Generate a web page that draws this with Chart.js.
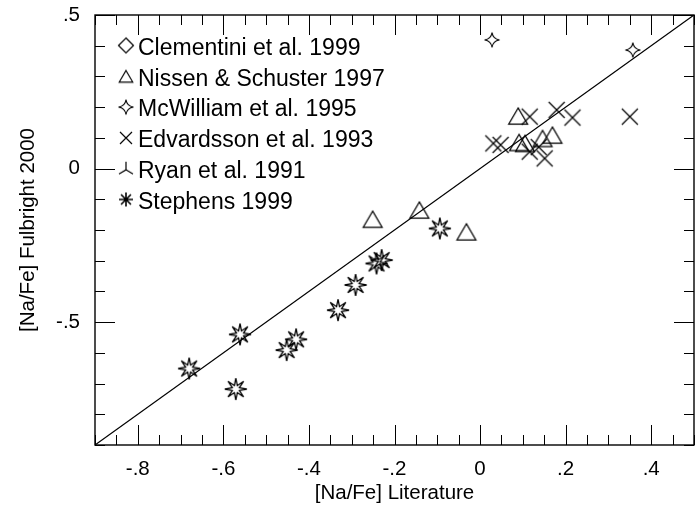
<!DOCTYPE html>
<html><head><meta charset="utf-8">
<script src="https://cdn.jsdelivr.net/npm/chart.js@4.4.0/dist/chart.umd.min.js"></script>
<style>html,body{margin:0;padding:0;background:#fff}#wrap{width:696px;height:510px}</style>
</head><body><div id="wrap"><canvas id="c" width="696" height="510"></canvas></div>
<script>
// ---- data ----
const seriesNames = ['Clementini et al. 1999','Nissen & Schuster 1997','McWilliam et al. 1995','Edvardsson et al. 1993','Ryan et al. 1991','Stephens 1999'];
const clementiniX = [];
const clementiniY = [];
const nissenX = [0.089, 0.091, 0.105, 0.146, 0.169, -0.251, -0.142, -0.032];
const nissenY = [0.171, 0.085, 0.082, 0.098, 0.109, -0.165, -0.135, -0.206];
const mcwilliamX = [0.028, 0.357];
const mcwilliamY = [0.419, 0.386];
const edvardssonX = [0.031, 0.048, 0.116, 0.179, 0.216, 0.350, 0.116, 0.137, 0.151];
const edvardssonY = [0.082, 0.077, 0.169, 0.191, 0.166, 0.169, 0.055, 0.070, 0.033];
const ryanX = [];
const ryanY = [];
const stephensX = [-0.680, -0.561, -0.571, -0.452, -0.430, -0.332, -0.291, -0.242, -0.230, -0.094];
const stephensY = [-0.651, -0.540, -0.718, -0.591, -0.556, -0.461, -0.379, -0.309, -0.298, -0.195];
const oneToOneX = [-0.9, 0.5];
const oneToOneY = [-0.9, 0.5];
const xTickValues = [-0.8, -0.6, -0.4, -0.2, 0, 0.2, 0.4];
const xTickLabels = ['-.8', '-.6', '-.4', '-.2', '0', '.2', '.4'];
const yTickValues = [-0.5, 0, 0.5];
const yTickLabels = ['-.5', '0', '.5'];
const xTitle = '[Na/Fe] Literature';
const yTitle = '[Na/Fe] Fulbright 2000';

// ---- marker drawing ----
function mk(size, lw, draw){
  const c = document.createElement('canvas'); c.width = size; c.height = size;
  const g = c.getContext('2d'); g.strokeStyle = '#000'; g.lineWidth = lw; g.lineJoin = 'miter'; g.miterLimit = 2.5;
  draw(g, size/2); return c;
}
const shapes = {
  diamond: (r) => (g, c) => { g.beginPath(); g.moveTo(c, c-r); g.lineTo(c+r, c); g.lineTo(c, c+r); g.lineTo(c-r, c); g.closePath(); g.stroke(); },
  triangle: (w) => (g, c) => { const h = w*0.86; g.beginPath(); g.moveTo(c, c-h/2); g.lineTo(c+w/2, c+h/2); g.lineTo(c-w/2, c+h/2); g.closePath(); g.stroke(); },
  star4: (r) => (g, c) => { const k = r*0.12; g.beginPath(); g.moveTo(c, c-r); g.quadraticCurveTo(c+k, c-k, c+r, c); g.quadraticCurveTo(c+k, c+k, c, c+r); g.quadraticCurveTo(c-k, c+k, c-r, c); g.quadraticCurveTo(c-k, c-k, c, c-r); g.closePath(); g.stroke(); },
  cross: (r) => (g, c) => { g.beginPath(); g.moveTo(c-r, c-r); g.lineTo(c+r, c+r); g.moveTo(c+r, c-r); g.lineTo(c-r, c+r); g.stroke(); },
  ryan: (r) => (g, c) => { g.beginPath(); g.moveTo(c, c-r); g.lineTo(c, c+r*0.15); g.lineTo(c-r, c+r*0.75); g.moveTo(c, c+r*0.15); g.lineTo(c+r, c+r*0.75); g.stroke(); },
  star8: (r, ir) => (g, c) => { g.beginPath(); for (let i=0;i<16;i++){ const a = -Math.PI/2 + i*Math.PI/8; const rr = i%2===0 ? r : ir; const px=c+rr*Math.cos(a), py=c+rr*Math.sin(a); i?g.lineTo(px,py):g.moveTo(px,py);} g.closePath(); g.stroke(); },
  asterisk: (r) => (g, c) => { g.beginPath(); for (let i=0;i<4;i++){ const a = i*Math.PI/4; g.moveTo(c-r*Math.cos(a), c-r*Math.sin(a)); g.lineTo(c+r*Math.cos(a), c+r*Math.sin(a)); } g.stroke(); }
};
const dataMarkers = [
  mk(20, 1.2, shapes.diamond(8)),
  mk(24, 1.2, shapes.triangle(19)),
  mk(20, 1.1, shapes.star4(7.5)),
  mk(20, 1.2, shapes.cross(8)),
  mk(20, 1.2, shapes.ryan(8)),
  mk(26, 1.3, shapes.star8(11, 3.8))
];
const legendMarkers = [
  mk(20, 1.2, shapes.diamond(7.5)),
  mk(20, 1.2, shapes.triangle(13.5)),
  mk(20, 1.1, shapes.star4(7.5)),
  mk(20, 1.2, shapes.cross(6)),
  mk(20, 1.2, shapes.ryan(7)),
  mk(20, 1.6, shapes.asterisk(7))
];

function pts(xs, ys){ return xs.map((v,i)=>({x:v, y:ys[i]})); }
const seriesData = [pts(clementiniX,clementiniY), pts(nissenX,nissenY), pts(mcwilliamX,mcwilliamY), pts(edvardssonX,edvardssonY), pts(ryanX,ryanY), pts(stephensX,stephensY)];

const datasets = seriesNames.map((name, i) => ({
  label: name, data: seriesData[i], pointStyle: dataMarkers[i], pointRadius: 10, pointHoverRadius: 10,
  borderColor: '#000', backgroundColor: 'transparent', showLine: false
}));
datasets.unshift({ type: 'line', label: '1:1', data: pts(oneToOneX, oneToOneY), borderColor: '#000', borderWidth: 1.2, pointRadius: 0, fill: false, tension: 0 });

const FONT = '"Liberation Sans", Arial, Helvetica, sans-serif';

const framePlugin = {
  id: 'frame',
  afterDatasetsDraw(chart){
    const {ctx, chartArea: a, scales: {x, y}} = chart;
    ctx.save();
    ctx.strokeStyle = '#000'; ctx.lineWidth = 1;
    ctx.beginPath();
    for (let k = -18; k <= 10; k++) {
      const v = k * 0.05; const p = Math.round(x.getPixelForValue(v)) + 0.5;
      const major = xTickValues.some(t => Math.abs(t - v) < 1e-6);
      const L = major ? 20 : 10;
      ctx.moveTo(p, a.bottom); ctx.lineTo(p, a.bottom - L);
      ctx.moveTo(p, a.top); ctx.lineTo(p, a.top + L);
    }
    for (let k = -9; k <= 5; k++) {
      const v = k * 0.1; const p = Math.round(y.getPixelForValue(v)) + 0.5;
      const major = yTickValues.some(t => Math.abs(t - v) < 1e-6);
      const L = major ? 20 : 10;
      ctx.moveTo(a.left, p); ctx.lineTo(a.left + L, p);
      ctx.moveTo(a.right, p); ctx.lineTo(a.right - L, p);
    }
    ctx.stroke();
    ctx.lineWidth = 1.4;
    ctx.strokeRect(a.left, a.top, a.right - a.left, a.bottom - a.top);
    // legend
    ctx.fillStyle = '#000';
    ctx.font = '23px ' + FONT;
    ctx.textBaseline = 'middle'; ctx.textAlign = 'left';
    seriesNames.forEach((name, i) => {
      const ry = a.top + 30.5 + i * 30.8;
      const m = legendMarkers[i];
      ctx.drawImage(m, 126 - m.width/2, ry - m.height/2);
      ctx.fillText(name, 138, ry + 3);
    });
    ctx.restore();
  }
};

function zeroPad(s){ s.paddingTop = 0; s.paddingBottom = 0; s.paddingLeft = 0; s.paddingRight = 0; }

new Chart(document.getElementById('c'), {
  type: 'scatter',
  data: { datasets },
  options: {
    responsive: false, animation: false, devicePixelRatio: 1,
    layout: { autoPadding: false, padding: { top: 15, right: 2, left: 0, bottom: 0 } },
    plugins: { legend: { display: false }, tooltip: { enabled: false } },
    scales: {
      x: {
        type: 'linear', min: -0.9, max: 0.5,
        afterFit: s => { s.height = 65; zeroPad(s); },
        afterBuildTicks: s => { s.ticks = xTickValues.map(v => ({ value: v })); },
        grid: { display: false, drawTicks: false }, border: { display: false },
        ticks: { autoSkip: false, maxRotation: 0, padding: 12, color: '#000', font: { family: FONT, size: 20.5 },
          callback: v => { const i = xTickValues.findIndex(t => Math.abs(t - v) < 1e-6); return i >= 0 ? xTickLabels[i] : ''; } },
        title: { display: true, text: xTitle, color: '#000', font: { family: FONT, size: 20.5 }, padding: { top: 4, bottom: 4 } }
      },
      y: {
        type: 'linear', min: -0.9, max: 0.5,
        afterFit: s => { s.width = 95; zeroPad(s); },
        afterBuildTicks: s => { s.ticks = yTickValues.map(v => ({ value: v })); },
        grid: { display: false, drawTicks: false }, border: { display: false },
        ticks: { autoSkip: false, padding: 15, color: '#000', font: { family: FONT, size: 20.5 },
          callback: v => { const i = yTickValues.findIndex(t => Math.abs(t - v) < 1e-6); return i >= 0 ? yTickLabels[i] : ''; } },
        title: { display: true, text: yTitle, color: '#000', font: { family: FONT, size: 20.5 }, padding: { top: 16, bottom: 16 } }
      }
    }
  },
  plugins: [framePlugin]
});
</script>
</body></html>
